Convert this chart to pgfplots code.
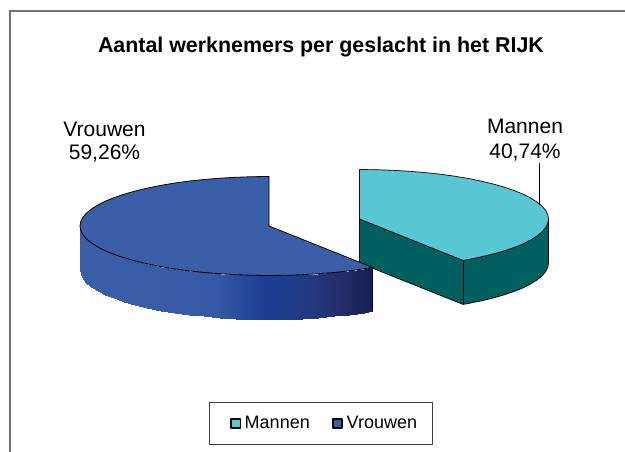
\documentclass[border=0pt]{standalone}
\usepackage{fontspec}
\setmainfont{Liberation Sans}
\usepackage{pgfplots}
\pgfplotsset{compat=1.18}
\definecolor{mantop}{RGB}{87,199,211}
\definecolor{manwall}{RGB}{0,96,95}
\definecolor{vrtop}{RGB}{59,94,168}
\definecolor{framegray}{RGB}{115,115,115}

% slice outlines, read off in picture pixels
\pgfplotstableread{
x y
359.5 219.0
359.5 169.5
376.0 169.7
392.3 170.3
408.4 171.2
424.1 172.5
439.4 174.1
454.0 176.1
467.9 178.4
481.0 181.1
493.1 184.0
504.3 187.2
514.3 190.6
523.2 194.2
530.8 198.1
537.1 202.1
542.1 206.2
545.6 210.4
547.8 214.7
548.5 219.0
547.8 223.3
545.6 227.6
542.1 231.8
537.1 235.9
530.8 239.9
523.2 243.8
514.3 247.4
504.3 250.8
493.1 254.0
481.0 256.9
467.9 259.6
463.0 260.4
359.5 219.0
}\mantopface
\pgfplotstableread{
x y
359.5 219.0
548.5 219.0
548.5 263.0
547.8 267.3
545.6 271.6
542.1 275.8
537.1 279.9
530.8 283.9
523.2 287.8
514.3 291.4
504.3 294.8
493.1 298.0
481.0 300.9
467.9 303.6
463.0 304.4
359.5 263.0
359.5 219.0
}\manwallface
\pgfplotstableread{
x y
269.0 226.0
372.5 267.4
363.5 268.9
348.9 270.9
333.6 272.5
317.9 273.8
301.8 274.7
285.5 275.3
269.0 275.5
252.5 275.3
236.2 274.7
220.1 273.8
204.4 272.5
189.1 270.9
174.5 268.9
160.6 266.6
147.5 263.9
135.4 261.0
124.2 257.8
114.2 254.4
105.3 250.8
97.7 246.9
91.4 242.9
86.4 238.8
82.9 234.6
80.7 230.3
80.0 226.0
80.7 221.7
82.9 217.4
86.4 213.2
91.4 209.1
97.7 205.1
105.3 201.2
114.2 197.6
124.2 194.2
135.4 191.0
147.5 188.1
160.6 185.4
174.5 183.1
189.1 181.1
204.4 179.5
220.1 178.2
236.2 177.3
252.5 176.7
269.0 176.5
269.0 226.0
}\vrtopface
\pgfplotstableread{
x y c
372.5 267.4 372.5
363.5 268.9 363.5
348.9 270.9 348.9
333.6 272.5 333.6
317.9 273.8 317.9
301.8 274.7 301.8
285.5 275.3 285.5
269.0 275.5 269.0
252.5 275.3 252.5
236.2 274.7 236.2
220.1 273.8 220.1
204.4 272.5 204.4
189.1 270.9 189.1
174.5 268.9 174.5
160.6 266.6 160.6
147.5 263.9 147.5
135.4 261.0 135.4
124.2 257.8 124.2
114.2 254.4 114.2
105.3 250.8 105.3
97.7 246.9 97.7
91.4 242.9 91.4
86.4 238.8 86.4
82.9 234.6 82.9
80.7 230.3 80.7
80.0 226.0 80.0
372.5 311.4 372.5
363.5 312.9 363.5
348.9 314.9 348.9
333.6 316.5 333.6
317.9 317.8 317.9
301.8 318.7 301.8
285.5 319.3 285.5
269.0 319.5 269.0
252.5 319.3 252.5
236.2 318.7 236.2
220.1 317.8 220.1
204.4 316.5 204.4
189.1 314.9 189.1
174.5 312.9 174.5
160.6 310.6 160.6
147.5 307.9 147.5
135.4 305.0 135.4
124.2 301.8 124.2
114.2 298.4 114.2
105.3 294.8 105.3
97.7 290.9 97.7
91.4 286.9 91.4
86.4 282.8 86.4
82.9 278.6 82.9
80.7 274.3 80.7
80.0 270.0 80.0
}\vrwallface

\begin{document}
\begin{tikzpicture}
\path[use as bounding box] (0,0) rectangle (625pt,452pt);
\begin{axis}[width=625pt, height=452pt, scale only axis,
  xmin=0, xmax=625, ymin=0, ymax=452, y dir=reverse,
  axis lines=none, clip=true,
  colormap={vrshade}{rgb255(0pt)=(59,94,168); rgb255(135pt)=(54,90,165);
    rgb255(185pt)=(27,62,147); rgb255(225pt)=(34,58,133); rgb255(260pt)=(36,46,106);
    rgb255(292.5pt)=(20,31,82)},
  point meta min=80, point meta max=372.5,
  legend columns=2,
  legend style={at={(axis cs:321,423.5)}, anchor=center, draw=black!75, line width=1.1pt,
    font=\fontsize{18}{20}\selectfont, inner xsep=13pt, inner ysep=12pt,
    /tikz/every even column/.append style={column sep=13pt}},
  legend cell align=left]
% outer frame runs off the right and bottom of the picture
\addplot[framegray, line width=1.5pt, forget plot] coordinates {(10,452) (10,11) (625,11)};
% Mannen
\addplot[fill=manwall, draw=black, line width=0.7pt, forget plot] table[x=x,y=y] {\manwallface};
\addplot[black, line width=0.7pt, forget plot] coordinates {(463,260.4) (463,304.4)};
\addplot[fill=mantop, draw=black, line width=0.7pt, line join=round,
  legend image code/.code={\path (-7.7pt,0pt) (11.4pt,0pt);
    \draw[fill=mantop, draw=black, line width=1.7pt] (0pt,-4.6pt) rectangle (9.4pt,4.6pt);}]
  table[x=x,y=y] {\mantopface};
\addlegendentry{Mannen}
% Vrouwen
\addplot[surf, shader=interp, mesh/rows=2, point meta=explicit, forget plot]
  table[x=x,y=y,meta=c] {\vrwallface};
\addplot[black!70!blue, line width=0.4pt, forget plot] coordinates {(372.5,267.4) (372.5,311.4)};
\addplot[fill=vrtop, draw=black, line width=0.8pt, line join=round,
  legend image code/.code={\path (-7.7pt,0pt) (11.4pt,0pt);
    \draw[fill=vrtop, draw=black, line width=1.7pt] (0pt,-4.6pt) rectangle (9.4pt,4.6pt);}]
  table[x=x,y=y] {\vrtopface};
\addlegendentry{Vrouwen}
% leader line
\addplot[black, line width=1pt, forget plot] coordinates {(539.5,163) (539.5,205)};
\node[anchor=base, font=\bfseries\fontsize{21.4}{24}\selectfont] at (axis cs:321,53) {Aantal werknemers per geslacht in het RIJK};
\node[anchor=base, font=\fontsize{21}{24}\selectfont] at (axis cs:525,134) {Mannen};
\node[anchor=base, font=\fontsize{21}{24}\selectfont] at (axis cs:525,158) {40,74\%};
\node[anchor=base, font=\fontsize{21}{24}\selectfont] at (axis cs:104.5,136) {Vrouwen};
\node[anchor=base, font=\fontsize{21}{24}\selectfont] at (axis cs:104.5,160) {59,26\%};
\end{axis}
\end{tikzpicture}
\end{document}
